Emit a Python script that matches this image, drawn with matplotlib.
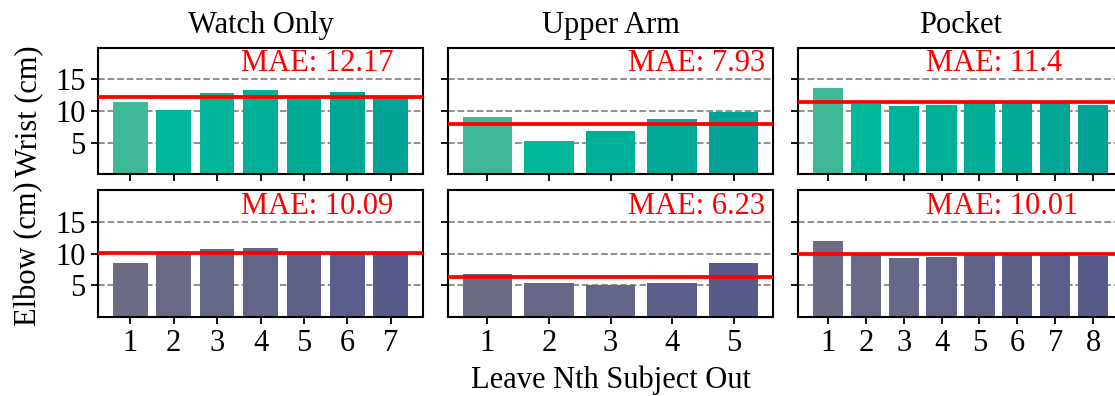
import numpy as np
import matplotlib
matplotlib.use('Agg')
import matplotlib.pyplot as plt
from matplotlib.colors import to_rgb

titles = ['Watch Only', 'Upper Arm', 'Pocket']
row_labels = ['Wrist (cm)', 'Elbow (cm)']

# per-subject error (cm), leave-one-subject-out
watch_wrist = [11.5, 10.1, 12.85, 13.4, 12.1, 13.0, 12.1]
watch_elbow = [8.5, 10.1, 10.8, 10.85, 10.1, 10.1, 10.1]
arm_wrist = [9.05, 5.2, 6.8, 8.75, 9.85]
arm_elbow = [6.83, 5.4, 5.03, 5.4, 8.52]
pocket_wrist = [13.65, 11.1, 10.78, 10.94, 11.25, 11.25, 11.25, 11.0]
pocket_elbow = [12.06, 9.9, 9.37, 9.52, 9.9, 9.9, 9.9, 9.63]

mae_wrist = [12.17, 7.93, 11.4]
mae_elbow = [10.09, 6.23, 10.01]

data = [[watch_wrist, arm_wrist, pocket_wrist],
        [watch_elbow, arm_elbow, pocket_elbow]]
maes = [mae_wrist, mae_elbow]

plt.rcParams['font.family'] = ['Liberation Serif', 'DejaVu Serif']
FS = 22


def blend(c0, c1, n):
    a, b = np.array(to_rgb(c0)), np.array(to_rgb(c1))
    return [tuple(a + (b - a) * t) for t in np.linspace(0, 1, n)]


def wrist_colors(n):
    return ['#40b999'] + blend('#00b898', '#00a396', n - 1)


def elbow_colors(n):
    return blend('#6c6d85', '#585a8b', n)


fig = plt.figure(figsize=(11.15, 3.96), dpi=100)
lefts = [0.0879, 0.4018, 0.7157]
bottoms = [0.560, 0.200]
w, h = 0.2915, 0.319
text_x = [0.44, 0.555, 0.395]

for r in range(2):
    for c in range(3):
        ax = fig.add_axes([lefts[c], bottoms[r], w, h])
        vals = data[r][c]
        x = np.arange(1, len(vals) + 1)
        cols = wrist_colors(len(vals)) if r == 0 else elbow_colors(len(vals))
        ax.bar(x, vals, width=0.8, color=cols, zorder=2)
        ax.axhline(maes[r][c], color='red', lw=2.7, zorder=3)
        ax.set_ylim(0, 20)
        ax.set_yticks([5, 10, 15])
        ax.set_xticks(x)
        ax.yaxis.grid(True, ls='--', color='#888888', lw=1.3, zorder=0)
        ax.set_axisbelow(True)
        for s in ax.spines.values():
            s.set_linewidth(1.5)
        ax.tick_params(direction='out', length=5, width=1.3, labelsize=FS, pad=4)
        ax.text(text_x[c], 0.875, 'MAE: %s' % maes[r][c], color='red',
                fontsize=FS, transform=ax.transAxes, ha='left', va='center')
        if r == 0:
            ax.set_title(titles[c], fontsize=FS, pad=11)
            ax.set_xticklabels([])
        if c == 0:
            ax.set_ylabel(row_labels[r], fontsize=FS)
            ax.yaxis.set_label_coords(-0.17, 0.5)
        else:
            ax.set_yticklabels([])
        if r == 1 and c == 1:
            ax.set_xlabel('Leave Nth Subject Out', fontsize=FS, labelpad=5)

fig.savefig('out.png', dpi=100)
